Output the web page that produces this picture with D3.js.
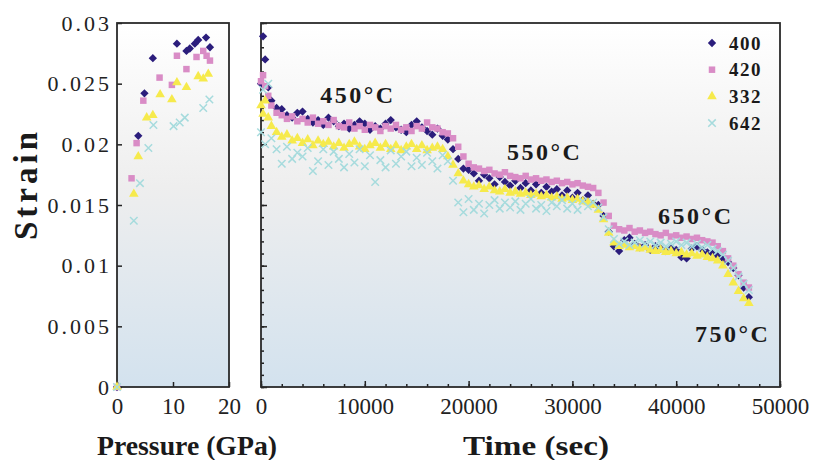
<!DOCTYPE html>
<html>
<head>
<meta charset="utf-8">
<script src="https://cdn.jsdelivr.net/npm/d3@7"></script>
<style>
  body { margin: 0; background: #fff; }
  svg text { font-family: "Liberation Serif", "Times New Roman", Times, serif; }
</style>
</head>
<body>
<div id="chart"></div>
<script>
const seriesNames = ["400", "420", "332", "642"];
const colors = ["#2b1d7c", "#d98cc6", "#f6ea4c", "#a6dbdd"];

// pressure ramp (left panel)
const pressure400 = [0, 3.8, 4.9, 6.4, 10.7, 12.4, 13.0, 13.9, 14.5, 15.9, 16.6];
const pStrain400 = [0, 0.0207, 0.0242, 0.0271, 0.0283, 0.0277, 0.0279, 0.0283, 0.0286, 0.0288, 0.0280];
const pressure420 = [0, 2.6, 3.5, 4.7, 7.6, 9.8, 10.7, 12.4, 14.2, 15.4, 16.0, 16.6];
const pStrain420 = [0, 0.0172, 0.0201, 0.0236, 0.0255, 0.0249, 0.0273, 0.0262, 0.0272, 0.0277, 0.0273, 0.0269];
const pressure332 = [0, 3.0, 3.8, 5.3, 6.4, 7.7, 9.8, 10.7, 12.4, 14.5, 15.4, 16.3];
const pStrain332 = [0, 0.0159, 0.0190, 0.0222, 0.0224, 0.0241, 0.0237, 0.0251, 0.0247, 0.0256, 0.0254, 0.0258];
const pressure642 = [0, 3.0, 4.1, 5.6, 6.5, 10.1, 11.2, 12.1, 15.4, 16.5];
const pStrain642 = [0, 0.0137, 0.0168, 0.0197, 0.0216, 0.0215, 0.0218, 0.0222, 0.0230, 0.0237];

// heating at pressure (right panel)
const times = [
  0, 200, 400, 700, 1000, 1500, 2000, 2500, 3000, 3500,
  4000, 4500, 5000, 5500, 6000, 6500, 7000, 7500, 8000, 8500,
  9000, 9500, 10000, 10500, 11000, 11500, 12000, 12500, 13000, 13500,
  14000, 14500, 15000, 15500, 16000, 16500, 17000, 17500, 18000, 18500,
  19000, 19500, 20000, 20500, 21000, 21500, 22000, 22500, 23000, 23500,
  24000, 24500, 25000, 25500, 26000, 26500, 27000, 27500, 28000, 28500,
  29000, 29500, 30000, 30500, 31000, 31500, 32000, 32500, 33000, 33500,
  34000, 34500, 35000, 35500, 36000, 36500, 37000, 37500, 38000, 38500,
  39000, 39500, 40000, 40500, 41000, 41500, 42000, 42500, 43000, 43500,
  44000, 44500, 45000, 45500, 46000, 46500, 47000
];
const strain400 = [
  0.0250, 0.0289, 0.0270, 0.0247, 0.0236, 0.0230, 0.0229, 0.0224, 0.0222, 0.0226,
  0.0227, 0.0221, 0.0218, 0.0220, 0.0216, 0.0222, 0.0219, 0.0215, 0.0217, 0.0213,
  0.0216, 0.0219, 0.0217, 0.0212, 0.0215, 0.0213, 0.0217, 0.0220, 0.0214, 0.0212,
  0.0210, 0.0216, 0.0219, 0.0214, 0.0211, 0.0208, 0.0213, 0.0207, 0.0204, 0.0196,
  0.0188, 0.0180, 0.0179, 0.0176, 0.0170, 0.0175, 0.0172, 0.0167, 0.0173, 0.0169,
  0.0166, 0.0170, 0.0164, 0.0168, 0.0162, 0.0167, 0.0160, 0.0165, 0.0161, 0.0163,
  0.0158, 0.0162, 0.0156, 0.0160, 0.0154, 0.0158, 0.0151, 0.0150, 0.0141, 0.0128,
  0.0116, 0.0112, 0.0121, 0.0123, 0.0118, 0.0115, 0.0117, 0.0113, 0.0116, 0.0114,
  0.0112, 0.0115, 0.0113, 0.0107, 0.0106, 0.0114, 0.0116, 0.0113, 0.0111, 0.0110,
  0.0108, 0.0106, 0.0103, 0.0098, 0.0092, 0.0082, 0.0074
];
const strain420 = [
  0.0252, 0.0257, 0.0248, 0.0240, 0.0232, 0.0226, 0.0224, 0.0221, 0.0223, 0.0219,
  0.0221, 0.0218, 0.0222, 0.0217, 0.0219, 0.0216, 0.0220, 0.0215, 0.0214, 0.0218,
  0.0213, 0.0215, 0.0212, 0.0216, 0.0214, 0.0211, 0.0215, 0.0213, 0.0216, 0.0212,
  0.0214, 0.0211, 0.0215, 0.0213, 0.0218, 0.0214, 0.0213, 0.0210, 0.0209, 0.0205,
  0.0198, 0.0190, 0.0184, 0.0181, 0.0180, 0.0178, 0.0179, 0.0176, 0.0175, 0.0177,
  0.0174, 0.0173, 0.0172, 0.0174, 0.0171, 0.0172, 0.0170, 0.0171, 0.0169, 0.0170,
  0.0168, 0.0169, 0.0167, 0.0168, 0.0166, 0.0165, 0.0164, 0.0160, 0.0152, 0.0141,
  0.0133, 0.0130, 0.0129, 0.0131, 0.0128, 0.0129, 0.0127, 0.0128, 0.0126, 0.0125,
  0.0127, 0.0124, 0.0125, 0.0123, 0.0124, 0.0122, 0.0123, 0.0121, 0.0120, 0.0119,
  0.0116, 0.0112, 0.0106, 0.0100, 0.0093, 0.0086, 0.0082
];
const strain332 = [
  0.0232, 0.0225, 0.0236, 0.0222, 0.0215, 0.0210, 0.0206, 0.0208, 0.0203, 0.0205,
  0.0201, 0.0204, 0.0199, 0.0203, 0.0200, 0.0202, 0.0198, 0.0201, 0.0197, 0.0200,
  0.0202, 0.0198, 0.0196, 0.0199, 0.0201, 0.0197, 0.0200, 0.0196, 0.0199, 0.0195,
  0.0198, 0.0200, 0.0196, 0.0199, 0.0195, 0.0197, 0.0198, 0.0196, 0.0190, 0.0183,
  0.0176, 0.0170, 0.0167, 0.0165, 0.0166, 0.0163, 0.0165, 0.0162, 0.0161, 0.0163,
  0.0160, 0.0161, 0.0159, 0.0160, 0.0158, 0.0159, 0.0157, 0.0158, 0.0156, 0.0157,
  0.0155, 0.0156, 0.0154, 0.0155, 0.0153, 0.0152, 0.0150, 0.0146, 0.0138, 0.0127,
  0.0119, 0.0116, 0.0117, 0.0115, 0.0116, 0.0114, 0.0115, 0.0113, 0.0112, 0.0113,
  0.0111, 0.0112, 0.0110, 0.0111, 0.0109, 0.0110, 0.0108, 0.0109, 0.0107, 0.0106,
  0.0104, 0.0100, 0.0093, 0.0086, 0.0079, 0.0073, 0.0069
];
const strain642 = [
  0.0210, 0.0245, 0.0200, 0.0250, 0.0205, 0.0196, 0.0184, 0.0198, 0.0188, 0.0193,
  0.0190, 0.0197, 0.0178, 0.0186, 0.0196, 0.0183, 0.0194, 0.0188, 0.0181, 0.0192,
  0.0185, 0.0196, 0.0182, 0.0191, 0.0169, 0.0187, 0.0181, 0.0195, 0.0184, 0.0190,
  0.0194, 0.0182, 0.0189, 0.0183, 0.0193, 0.0186, 0.0180, 0.0191, 0.0186, 0.0170,
  0.0152, 0.0144, 0.0155, 0.0146, 0.0151, 0.0143, 0.0150, 0.0154, 0.0147, 0.0152,
  0.0148, 0.0153, 0.0146, 0.0151, 0.0155, 0.0147, 0.0150, 0.0145, 0.0152, 0.0149,
  0.0154, 0.0147, 0.0151, 0.0146, 0.0153, 0.0149, 0.0152, 0.0148, 0.0140, 0.0130,
  0.0122, 0.0118, 0.0120, 0.0117, 0.0119, 0.0121, 0.0118, 0.0120, 0.0117, 0.0119,
  0.0116, 0.0118, 0.0120, 0.0117, 0.0119, 0.0116, 0.0118, 0.0115, 0.0117, 0.0114,
  0.0112, 0.0109, 0.0104, 0.0098, 0.0091, 0.0085, 0.0080
];

const yTicks = [0, 0.005, 0.01, 0.015, 0.02, 0.025, 0.03];
const yTickLabels = ["0", "0.005", "0.01", "0.015", "0.02", "0.025", "0.03"];
const pTicks = [0, 10, 20];
const tTicks = [0, 10000, 20000, 30000, 40000, 50000];
const tTickLabels = ["0", "10000", "20000", "30000", "40000", "50000"];

const pressureSeries = [[pressure400, pStrain400], [pressure420, pStrain420], [pressure332, pStrain332], [pressure642, pStrain642]];
const timeSeries = [strain400, strain420, strain332, strain642];

const width = 813;
const height = 460;
const serif = '"Liberation Serif", "Times New Roman", Times, serif';

const svg = d3.select("#chart").append("svg").attr("width", width).attr("height", height);

const grad = svg.append("defs").append("linearGradient")
  .attr("id", "panelFill").attr("x1", 0).attr("y1", 0).attr("x2", 0).attr("y2", 1);
grad.append("stop").attr("offset", "0%").attr("stop-color", "#ffffff");
grad.append("stop").attr("offset", "45%").attr("stop-color", "#eeeeee");
grad.append("stop").attr("offset", "100%").attr("stop-color", "#d3e2ee");

const y = d3.scaleLinear().domain([0, 0.03]).range([387, 23]);
const xP = d3.scaleLinear().domain([0, 20]).range([117, 229]);
const xT = d3.scaleLinear().domain([0, 50000]).range([261, 780]);

// Panel backgrounds

[xP, xT].forEach((xs) => {
  svg.append("rect")
    .attr("x", xs.range()[0])
    .attr("y", y.range()[1])
    .attr("width", xs.range()[1] - xs.range()[0])
    .attr("height", y.range()[0] - y.range()[1])
    .attr("fill", "url(#panelFill)");
});

// Axes

function styleTicks(g) {
  g.attr("font-family", serif);
  g.select(".domain").remove();
  g.selectAll(".tick line").attr("stroke", "#222").attr("stroke-width", 1.5);
  g.selectAll(".tick text").attr("fill", "#222").style("font-family", serif).style("font-size", "23px");
}

svg.append("g")
  .attr("transform", `translate(${xP.range()[0]},0)`)
  .call(d3.axisLeft(y).tickValues(yTicks).tickFormat((d, i) => yTickLabels[i])
    .tickSizeInner(-5).tickSizeOuter(0).tickPadding(5))
  .call(styleTicks)
  .selectAll(".tick text").style("font-size", "22px").style("letter-spacing", "3px");

svg.append("g")
  .attr("transform", `translate(0,${y.range()[0]})`)
  .call(d3.axisBottom(xP).tickValues(pTicks).tickSizeInner(-5).tickSizeOuter(0).tickPadding(11))
  .call(styleTicks);

svg.append("g")
  .attr("transform", `translate(${xT.range()[0]},0)`)
  .call(d3.axisLeft(y).tickValues(d3.range(0, 0.0301, 0.001)).tickFormat("")
    .tickSizeInner(-3).tickSizeOuter(0))
  .call(styleTicks);

svg.append("g")
  .attr("transform", `translate(${xT.range()[0]},0)`)
  .call(d3.axisLeft(y).tickValues(yTicks).tickFormat("").tickSizeInner(-6).tickSizeOuter(0))
  .call(styleTicks);

svg.append("g")
  .attr("transform", `translate(0,${y.range()[0]})`)
  .call(d3.axisBottom(xT).tickValues(d3.range(0, 50001, 2000)).tickFormat("")
    .tickSizeInner(-3).tickSizeOuter(0))
  .call(styleTicks);

svg.append("g")
  .attr("transform", `translate(0,${y.range()[0]})`)
  .call(d3.axisBottom(xT).tickValues(tTicks).tickFormat((d, i) => tTickLabels[i])
    .tickSizeInner(-6).tickSizeOuter(0).tickPadding(11))
  .call(styleTicks);

// Frames

[xP, xT].forEach((xs) => {
  svg.append("rect")
    .attr("x", xs.range()[0])
    .attr("y", y.range()[1])
    .attr("width", xs.range()[1] - xs.range()[0])
    .attr("height", y.range()[0] - y.range()[1])
    .attr("fill", "none")
    .attr("stroke", "#2a2a2a")
    .attr("stroke-width", 1.8);
});

// Markers

const xMark = {
  draw(ctx, size) {
    const r = Math.sqrt(size) / 2;
    ctx.moveTo(-r, -r);
    ctx.lineTo(r, r);
    ctx.moveTo(r, -r);
    ctx.lineTo(-r, r);
  },
};
const shapes = [d3.symbolDiamond2 || d3.symbolDiamond, d3.symbolSquare, d3.symbolTriangle, xMark];
const sizes = [44, 42, 40, 56];

function drawMarks(g, points, i) {
  const sym = d3.symbol().type(shapes[i]).size(sizes[i]);
  g.selectAll(null)
    .data(points)
    .join("path")
    .attr("transform", (d) => `translate(${d[0]},${d[1]})`)
    .attr("d", sym)
    .attr("fill", i === 3 ? "none" : colors[i])
    .attr("stroke", i === 3 ? colors[i] : "none")
    .attr("stroke-width", 1.5);
}

const marks = svg.append("g");
seriesNames.forEach((name, i) => {
  const [ps, ss] = pressureSeries[i];
  drawMarks(marks, ps.map((p, k) => [xP(p), y(ss[k])]), i);
  drawMarks(marks, times.map((t, k) => [xT(t), y(timeSeries[i][k])]), i);
});

// Legend

const legend = svg.append("g").attr("transform", "translate(712,43)");
seriesNames.forEach((name, i) => {
  const row = legend.append("g").attr("transform", `translate(0,${i * 26.7})`);
  drawMarks(row, [[0, 0]], i);
  row.append("text")
    .attr("x", 17)
    .attr("dy", "0.35em")
    .attr("fill", "#1a1a1a")
    .style("font-family", serif)
    .style("font-size", "19px")
    .style("font-weight", "bold")
    .style("letter-spacing", "1.5px")
    .text(name);
});

// Temperature annotations

[["450°C", 5700, 0.0234], ["550°C", 23700, 0.0187], ["650°C", 38250, 0.0134], ["750°C", 41800, 0.0037]]
  .forEach(([label, t, s]) => {
    svg.append("text")
      .attr("x", xT(t))
      .attr("y", y(s))
      .attr("fill", "#1a1a1a")
      .style("font-family", serif)
      .style("font-size", "24px")
      .style("font-weight", "bold")
      .style("letter-spacing", "2.5px")
      .text(label);
  });

// Axis titles

svg.append("text")
  .attr("transform", "translate(37,184) rotate(-90)")
  .attr("text-anchor", "middle")
  .attr("fill", "#1a1a1a")
  .style("font-family", serif)
  .style("font-size", "33px")
  .style("font-weight", "bold")
  .style("letter-spacing", "4px")
  .text("Strain");

svg.append("text")
  .attr("x", 187)
  .attr("y", 455)
  .attr("text-anchor", "middle")
  .attr("textLength", 180)
  .attr("lengthAdjust", "spacingAndGlyphs")
  .attr("fill", "#1a1a1a")
  .style("font-family", serif)
  .style("font-size", "27px")
  .style("font-weight", "bold")
  .text("Pressure (GPa)");

svg.append("text")
  .attr("x", 536)
  .attr("y", 455)
  .attr("text-anchor", "middle")
  .attr("textLength", 146)
  .attr("lengthAdjust", "spacingAndGlyphs")
  .attr("fill", "#1a1a1a")
  .style("font-family", serif)
  .style("font-size", "27px")
  .style("font-weight", "bold")
  .text("Time (sec)");
</script>
</body>
</html>
